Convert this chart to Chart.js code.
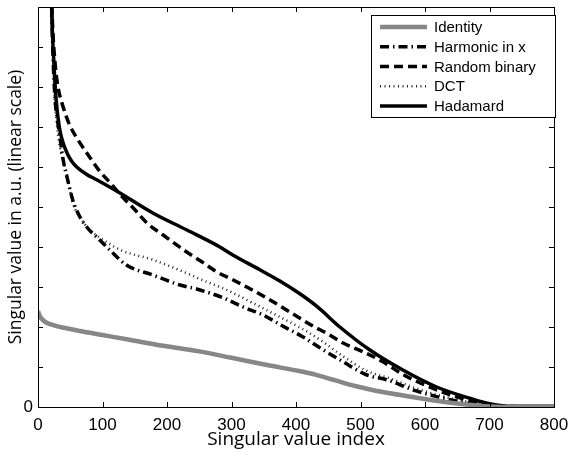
<!DOCTYPE html>
<html lang="en">
<head>
<meta charset="UTF-8">
<title>Singular values</title>
<style>
  body { margin: 0; background: #fff; }
  #chart { display: block; }
</style>
</head>
<body>
<canvas id="chart" width="569" height="458"></canvas>
<script src="https://cdn.jsdelivr.net/npm/chart.js"></script>
<script>
// values (x = singular value index, y = a.u.)
const seriesNames = ['Identity', 'Harmonic in x', 'Random binary', 'DCT', 'Hadamard'];

const identityX = [0, 2, 6, 12, 25, 40, 65, 100, 142, 194, 250, 300, 355, 405, 430, 460, 490, 520, 550, 580, 620, 660, 700, 720, 800];
const identityY = [2.4, 2.3, 2.2, 2.12, 2.04, 1.98, 1.9, 1.8, 1.68, 1.53, 1.39, 1.23, 1.05, 0.9, 0.81, 0.67, 0.53, 0.42, 0.33, 0.25, 0.15, 0.07, 0.01, 0, 0];

const harmonicX = [20.5, 23, 26, 30, 34, 39, 46, 54, 65, 78, 91, 116, 137, 178, 220, 246, 287, 318, 349, 380, 411, 442, 473, 510, 541, 581, 618, 654, 685, 720, 800];
const harmonicY = [10.4, 8.9, 7.8, 7.2, 6.75, 6.18, 5.68, 5.17, 4.75, 4.45, 4.25, 3.85, 3.55, 3.3, 3.05, 2.95, 2.73, 2.5, 2.3, 2.02, 1.75, 1.43, 1.13, 0.8, 0.68, 0.43, 0.26, 0.13, 0.04, 0, 0];

const randomX = [20.5, 23, 27, 31, 39, 49, 62, 77, 94, 112, 131, 148, 169, 194, 230, 254, 277, 302, 326, 354, 378, 403, 429, 447, 473, 504, 535, 565, 600, 640, 680, 720, 800];
const randomY = [10.4, 9.4, 8.5, 8.0, 7.5, 7.05, 6.68, 6.32, 5.93, 5.6, 5.25, 4.97, 4.6, 4.3, 3.88, 3.63, 3.38, 3.18, 2.98, 2.73, 2.5, 2.25, 2.0, 1.85, 1.6, 1.38, 1.13, 0.82, 0.55, 0.3, 0.12, 0.02, 0];

const dctX = [20.5, 23, 26, 29, 32, 35, 40, 45, 54, 65, 80, 101, 127, 178, 230, 251, 292, 333, 375, 410, 440, 470, 510, 545, 580, 620, 660, 700, 725, 800];
const dctY = [10.4, 8.9, 7.7, 7.1, 6.7, 6.4, 6.1, 5.8, 5.1, 4.75, 4.43, 4.18, 3.93, 3.68, 3.35, 3.2, 2.93, 2.6, 2.25, 1.95, 1.65, 1.3, 0.9, 0.72, 0.5, 0.3, 0.15, 0.05, 0, 0];

const hadamardX = [20.5, 22, 24, 28, 33, 38, 45, 52, 60, 75, 91, 127, 178, 230, 282, 302, 344, 375, 406, 432, 468, 514, 565, 618, 669, 700, 730, 800];
const hadamardY = [10.4, 9.5, 8.8, 7.7, 7.0, 6.65, 6.35, 6.15, 6.0, 5.82, 5.68, 5.35, 4.85, 4.43, 4.0, 3.8, 3.43, 3.15, 2.83, 2.52, 2.0, 1.43, 0.93, 0.5, 0.22, 0.08, 0.02, 0.02];

const xTicks = [0, 100, 200, 300, 400, 500, 600, 700, 800];

const pts = (xs, ys) => xs.map((x, i) => ({ x: x, y: ys[i] }));

const numFont = '"Liberation Sans", Arial, sans-serif';
const titleFont = '"Open Sans", sans-serif';

// matlab-style box with inward ticks
const boxPlugin = {
  id: 'box',
  afterDatasetsDraw(chart) {
    const { ctx, chartArea: a, scales } = chart;
    const len = 5;
    ctx.save();
    ctx.strokeStyle = '#000';
    ctx.lineWidth = 1;
    ctx.beginPath();
    scales.x.ticks.forEach(t => {
      const px = Math.round(scales.x.getPixelForValue(t.value)) + 0.5;
      ctx.moveTo(px, a.bottom); ctx.lineTo(px, a.bottom - len);
      ctx.moveTo(px, a.top); ctx.lineTo(px, a.top + len);
    });
    scales.y.ticks.forEach(t => {
      const py = Math.round(scales.y.getPixelForValue(t.value)) + 0.5;
      ctx.moveTo(a.left, py); ctx.lineTo(a.left + len, py);
      ctx.moveTo(a.right, py); ctx.lineTo(a.right - len, py);
    });
    ctx.stroke();
    ctx.strokeRect(Math.round(a.left) + 0.5, Math.round(a.top) + 0.5,
      Math.round(a.right - a.left), Math.round(a.bottom - a.top));
    ctx.restore();
  }
};

// legend box drawn from dataset styles
const legendPlugin = {
  id: 'boxLegend',
  afterDraw(chart) {
    const { ctx } = chart;
    const bx = 371, by = 15, bw = 184, bh = 102;
    ctx.save();
    ctx.fillStyle = '#fff';
    ctx.fillRect(bx, by, bw, bh);
    ctx.strokeStyle = '#000';
    ctx.lineWidth = 1;
    ctx.strokeRect(bx + 0.5, by + 0.5, bw, bh);
    chart.data.datasets.forEach((ds, i) => {
      const y = 27 + i * 19.75;
      ctx.beginPath();
      ctx.strokeStyle = ds.borderColor;
      ctx.lineWidth = ds.borderWidth;
      ctx.setLineDash(ds.borderDash || []);
      ctx.moveTo(380, y);
      ctx.lineTo(427, y);
      ctx.stroke();
      ctx.setLineDash([]);
      ctx.fillStyle = '#000';
      ctx.font = '15px ' + numFont;
      ctx.textBaseline = 'middle';
      ctx.fillText(ds.label, 434, y + 1);
    });
    ctx.restore();
  }
};

const ctx = document.getElementById('chart').getContext('2d');

new Chart(ctx, {
  type: 'line',
  data: {
    datasets: [
      { label: seriesNames[0], data: pts(identityX, identityY), borderColor: '#878787', borderWidth: 4.5 },
      { label: seriesNames[1], data: pts(harmonicX, harmonicY), borderColor: '#000', borderWidth: 3.5, borderDash: [9, 4, 1.5, 4] },
      { label: seriesNames[2], data: pts(randomX, randomY), borderColor: '#000', borderWidth: 3.5, borderDash: [9, 5] },
      { label: seriesNames[3], data: pts(dctX, dctY), borderColor: '#222', borderWidth: 2.5, borderDash: [1, 3.5] },
      { label: seriesNames[4], data: pts(hadamardX, hadamardY), borderColor: '#000', borderWidth: 3.5 }
    ]
  },
  options: {
    responsive: false,
    animation: false,
    events: [],
    layout: { padding: { top: 7, right: 15, left: 0, bottom: 0 } },
    elements: {
      point: { radius: 0 },
      line: { cubicInterpolationMode: 'monotone', fill: false }
    },
    plugins: {
      legend: { display: false },
      tooltip: { enabled: false }
    },
    scales: {
      x: {
        type: 'linear',
        min: 0,
        max: 800,
        afterBuildTicks: s => { s.ticks = xTicks.map(v => ({ value: v })); },
        afterFit: s => { s.height = 51; s.paddingLeft = 0; s.paddingRight = 0; },
        grid: { display: false, drawTicks: false },
        border: { display: false },
        ticks: { color: '#000', padding: 8, maxRotation: 0, font: { family: numFont, size: 17 } },
        title: {
          display: true,
          text: 'Singular value index',
          color: '#000',
          font: { family: titleFont, size: 19 },
          padding: { top: 0, bottom: 7 }
        }
      },
      y: {
        min: 0,
        max: 10,
        afterFit: s => { s.width = 38; s.paddingTop = 0; s.paddingBottom = 0; },
        grid: { display: false, drawTicks: false },
        border: { display: false },
        ticks: {
          stepSize: 1,
          color: '#000',
          padding: 5,
          font: { family: numFont, size: 17 },
          callback: v => (v === 0 ? '0' : '')
        },
        title: {
          display: true,
          text: 'Singular value in a.u. (linear scale)',
          color: '#000',
          font: { family: titleFont, size: 17.5 },
          padding: { top: 6, bottom: 0 }
        }
      }
    }
  },
  plugins: [boxPlugin, legendPlugin]
});
</script>
</body>
</html>
